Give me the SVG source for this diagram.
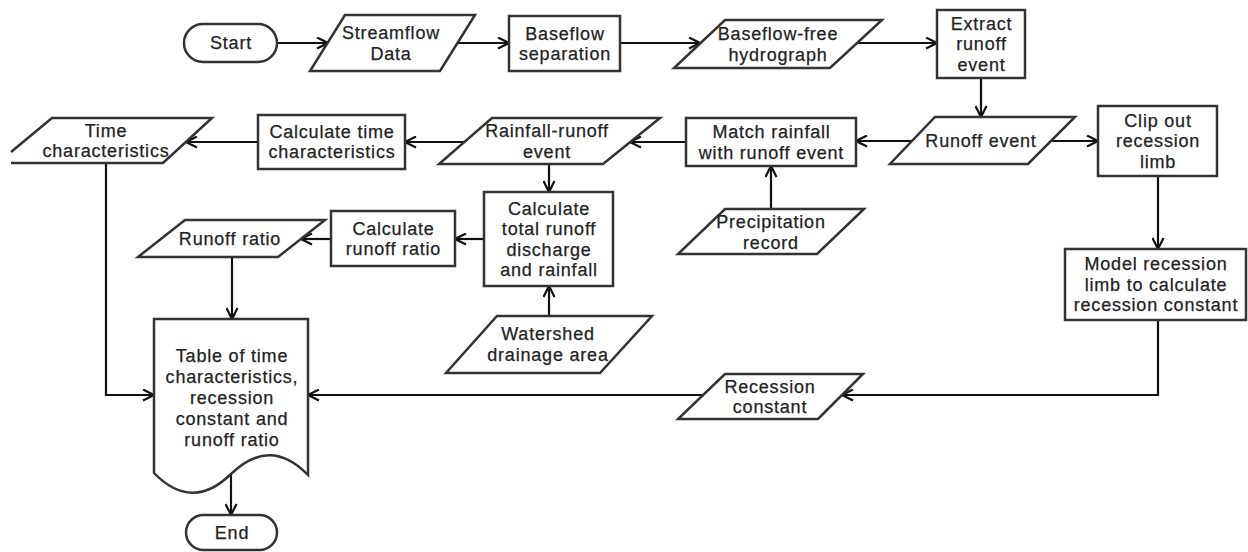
<svg xmlns="http://www.w3.org/2000/svg" width="1248" height="552" viewBox="0 0 1248 552">
<style>
.s{fill:#fff;stroke:#333;stroke-width:2.5;stroke-linejoin:miter}
.t{font-family:"Liberation Sans",Arial,sans-serif;font-size:18px;letter-spacing:0.8px;fill:#222;stroke:#222;stroke-width:0.25;text-anchor:middle}
.c{fill:none;stroke:#111;stroke-width:2.2}
.a{marker-end:url(#arr)}
</style>
<defs>
<marker id="arr" viewBox="0 0 13 13" refX="12" refY="6.5" markerWidth="13" markerHeight="13" markerUnits="userSpaceOnUse" orient="auto">
<path d="M1,1 L12,6.5 L1,12" fill="none" stroke="#111" stroke-width="2.2"/>
</marker>
</defs>
<rect width="1248" height="552" fill="#fff"/>
<g id="connectors">
<path class="c a" d="M277,43 H328"/>
<path class="c a" d="M457,43 H509"/>
<path class="c a" d="M620,43 H700"/>
<path class="c a" d="M857,43 H937"/>
<path class="c a" d="M981,78 V117"/>
<path class="c a" d="M1051,141 H1098"/>
<path class="c a" d="M912,141 H856"/>
<path class="c a" d="M686,142 H630"/>
<path class="c a" d="M464,142 H405"/>
<path class="c a" d="M258,142 H186"/>
<path class="c a" d="M771,209 V166"/>
<path class="c a" d="M549,164 V192"/>
<path class="c a" d="M549,316 V286"/>
<path class="c a" d="M484,239 H455"/>
<path class="c a" d="M331,239 H301"/>
<path class="c a" d="M232,257 V319"/>
<path class="c a" d="M106,163 V395 H154"/>
<path class="c a" d="M1158,176 V249"/>
<path class="c a" d="M1158,320 V395 H842"/>
<path class="c a" d="M703,395 H308"/>
<path class="c a" d="M231,474 V515"/>
</g>
<g id="start">
<rect class="s" x="184" y="24" width="93" height="38" rx="19"/>
<text class="t" x="231" y="49.3">Start</text>
</g>
<g id="streamflow">
<polygon class="s" points="345,15 475,15 440,71 310,71"/>
<text class="t" x="391" y="39">Streamflow</text>
<text class="t" x="391" y="59.5">Data</text>
</g>
<g id="baseflow-sep">
<rect class="s" x="509" y="16" width="111" height="55"/>
<text class="t" x="565" y="39.5">Baseflow</text>
<text class="t" x="565" y="60">separation</text>
</g>
<g id="baseflow-free">
<polygon class="s" points="725,20 882,20 830,68 674,68"/>
<text class="t" x="778" y="40">Baseflow-free</text>
<text class="t" x="778" y="60.5">hydrograph</text>
</g>
<g id="extract">
<rect class="s" x="937" y="10" width="88" height="68"/>
<text class="t" x="981.5" y="29.8">Extract</text>
<text class="t" x="981.5" y="50.3">runoff</text>
<text class="t" x="981.5" y="70.8">event</text>
</g>
<g id="runoff-event">
<polygon class="s" points="935,117 1075,117 1028,164 890,164"/>
<text class="t" x="981" y="147.3">Runoff event</text>
</g>
<g id="clip">
<rect class="s" x="1098" y="106" width="119" height="70"/>
<text class="t" x="1158" y="126.8">Clip out</text>
<text class="t" x="1158" y="147.3">recession</text>
<text class="t" x="1158" y="167.8">limb</text>
</g>
<g id="match">
<rect class="s" x="686" y="118" width="170" height="48"/>
<text class="t" x="771.5" y="138">Match rainfall</text>
<text class="t" x="771.5" y="158.5">with runoff event</text>
</g>
<g id="rainfall-runoff">
<polygon class="s" points="492,118 660,118 603,164 439,164"/>
<text class="t" x="547" y="137">Rainfall-runoff</text>
<text class="t" x="547" y="157.5">event</text>
</g>
<g id="calc-time">
<rect class="s" x="258" y="115" width="147" height="54"/>
<text class="t" x="332" y="137.5">Calculate time</text>
<text class="t" x="332" y="158">characteristics</text>
</g>
<g id="time-char">
<path class="s" d="M11,152 L52,118 L212,118 L163,163 L11,163"/>
<text class="t" x="106" y="136.5">Time</text>
<text class="t" x="106" y="157">characteristics</text>
</g>
<g id="calc-total">
<rect class="s" x="484" y="192" width="129" height="94"/>
<text class="t" x="549" y="214.5">Calculate</text>
<text class="t" x="549" y="235">total runoff</text>
<text class="t" x="549" y="255.5">discharge</text>
<text class="t" x="549" y="276">and rainfall</text>
</g>
<g id="calc-ratio">
<rect class="s" x="331" y="211" width="124" height="55"/>
<text class="t" x="393.5" y="234.5">Calculate</text>
<text class="t" x="393.5" y="255">runoff ratio</text>
</g>
<g id="runoff-ratio">
<polygon class="s" points="185,220 325,220 278,257 138,257"/>
<text class="t" x="230" y="245">Runoff ratio</text>
</g>
<g id="precip">
<polygon class="s" points="725,209 864,209 817,254 678,254"/>
<text class="t" x="771" y="228">Precipitation</text>
<text class="t" x="771" y="248.5">record</text>
</g>
<g id="watershed">
<polygon class="s" points="497,316 652,316 600,373 446,373"/>
<text class="t" x="548" y="340">Watershed</text>
<text class="t" x="548" y="360.5">drainage area</text>
</g>
<g id="model">
<rect class="s" x="1065" y="249" width="181" height="71"/>
<text class="t" x="1156" y="270.3">Model recession</text>
<text class="t" x="1156" y="290.8">limb to calculate</text>
<text class="t" x="1156" y="311.3">recession constant</text>
</g>
<g id="recession-constant">
<polygon class="s" points="725,374 863,374 818,419 678,419"/>
<text class="t" x="770" y="392.5">Recession</text>
<text class="t" x="770" y="413">constant</text>
</g>
<g id="table">
<path class="s" d="M154,319 H308 V475 Q270,436 231,474 Q192,512 154,473 Z"/>
<text class="t" x="232" y="361.5">Table of time</text>
<text class="t" x="232" y="382.5">characteristics,</text>
<text class="t" x="232" y="403.5">recession</text>
<text class="t" x="232" y="424.5">constant and</text>
<text class="t" x="232" y="445.5">runoff ratio</text>
</g>
<g id="end">
<rect class="s" x="186" y="515" width="91" height="35" rx="17.5"/>
<text class="t" x="232" y="539">End</text>
</g>
</svg>
